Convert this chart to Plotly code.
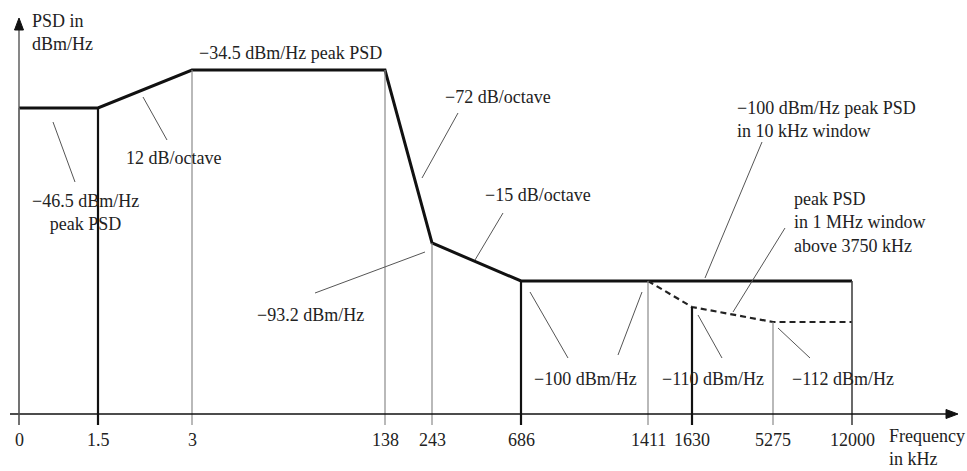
import plotly.graph_objects as go

# ---- data (schematic, not-to-scale PSD mask) ----
freq_labels = ["0", "1.5", "3", "138", "243", "686", "1411", "1630", "5275", "12000"]
freq_pos = [0, 79, 173, 366, 413, 502, 629, 673, 754, 833]   # schematic axis positions

psd_db = [-34.5, -46.5, -93.2, -100, -110, -112]
psd_pos = [344, 306, 171, 133, 107, 92]                         # schematic axis heights

# main mask (solid)
main_freq = ["0", "1.5", "3", "138", "243", "686", "12000"]
main_db = [-46.5, -46.5, -34.5, -34.5, -93.2, -100, -100]
# 1 MHz window mask (dashed)
dash_freq = ["1411", "1630", "5275", "12000"]
dash_db = [-100, -110, -112, -112]
# vertical drop line for each tick (top level in dB)
drop_db = [-46.5, -46.5, -34.5, -34.5, -93.2, -100, -100, -110, -112, -100]
drop_style = ["thin", "thick", "thin", "thin", "thin", "thick", "thin", "thick", "thin", "mid"]

fx = dict(zip(freq_labels, freq_pos))
fy = dict(zip(psd_db, psd_pos))

X0, Y0 = 19, 414  # pixel origin used to express annotation positions
def px(x):
    return x - X0
def py(y):
    return Y0 - y

FONT = "Times New Roman, Liberation Serif, DejaVu Serif, serif"
FS = 18

fig = go.Figure()

# drop lines
styles = {"thin": ("#8a8a8a", 1.2), "thick": ("#111111", 2.2), "mid": ("#444444", 1.6)}
shapes = []
for lab, db, st in zip(freq_labels, drop_db, drop_style):
    c, w = styles[st]
    shapes.append(dict(type="line", xref="x", yref="y", x0=fx[lab], x1=fx[lab],
                       y0=-11, y1=fy[db], line=dict(color=c, width=w)))

fig.add_trace(go.Scatter(x=[fx[f] for f in main_freq], y=[fy[d] for d in main_db],
                         mode="lines", line=dict(color="#111111", width=3),
                         hoverinfo="skip", showlegend=False))
fig.add_trace(go.Scatter(x=[fx[f] for f in dash_freq], y=[fy[d] for d in dash_db],
                         mode="lines", line=dict(color="#222222", width=2.2, dash="6px,4px"),
                         hoverinfo="skip", showlegend=False))

# axes
shapes.append(dict(type="line", xref="x", yref="y", x0=px(10), x1=px(950), y0=0, y1=0,
                   line=dict(color="#111111", width=1.6)))
shapes.append(dict(type="line", xref="x", yref="y", x0=0, x1=0, y0=-11, y1=py(28),
                   line=dict(color="#555555", width=1.4)))
# arrow heads
shapes.append(dict(type="path", xref="x", yref="y",
                   path=f"M {px(958)} 0 L {px(946)} 4.5 L {px(946)} -4.5 Z",
                   fillcolor="#111111", line=dict(color="#111111", width=1)))
shapes.append(dict(type="path", xref="x", yref="y",
                   path=f"M 0 {py(18)} L -4.5 {py(30)} L 4.5 {py(30)} Z",
                   fillcolor="#111111", line=dict(color="#111111", width=1)))

# leader lines (pixel endpoints of annotation pointers)
leaders = [((53, 122), (75, 182)), ((143, 97), (167, 140)), ((458, 113), (422, 178)),
           ((503, 213), (475, 260)), ((315, 293), (425, 252)), ((762, 142), (705, 278)),
           ((785, 228), (733, 312)), ((530, 292), (568, 358)), ((642, 292), (618, 355)),
           ((698, 315), (722, 358)), ((778, 328), (810, 358))]
for (a, b) in leaders:
    shapes.append(dict(type="line", xref="x", yref="y", x0=px(a[0]), y0=py(a[1]),
                       x1=px(b[0]), y1=py(b[1]), line=dict(color="#555555", width=1)))

annotations = []
def txt(text, x, y, xanchor="left", align="left"):
    annotations.append(dict(text=text, x=px(x), y=py(y), xref="x", yref="y",
                            xanchor=xanchor, yanchor="middle", align=align, showarrow=False,
                            font=dict(family=FONT, size=FS, color="#222222")))

# tick labels
for lab, pos in zip(freq_labels, freq_pos):
    annotations.append(dict(text=lab, x=pos, y=py(440), xref="x", yref="y",
                            xanchor="center", yanchor="middle", showarrow=False,
                            font=dict(family=FONT, size=FS, color="#222222")))

txt("PSD in<br>dBm/Hz", 30, 32)
txt("−34.5 dBm/Hz peak PSD", 197, 53)
txt("−72 dB/octave", 443, 97)
txt("12 dB/octave", 124, 158)
txt("−46.5 dBm/Hz<br>peak PSD", 85, 212, xanchor="center", align="center")
txt("−15 dB/octave", 483, 195)
txt("−100 dBm/Hz peak PSD<br>in 10 kHz window", 735, 119)
txt("peak PSD<br>in 1 MHz window<br>above 3750 kHz", 792, 222)
txt("−93.2 dBm/Hz", 255, 315)
txt("−100 dBm/Hz", 532, 379)
txt("−110 dBm/Hz", 660, 379)
txt("−112 dBm/Hz", 790, 379)
txt("Frequency<br>in kHz", 887, 447)

fig.update_layout(
    width=967, height=471,
    margin=dict(l=0, r=0, t=0, b=0),
    paper_bgcolor="white", plot_bgcolor="white",
    xaxis=dict(range=[px(0), px(967)], visible=False, fixedrange=True),
    yaxis=dict(range=[py(471), py(0)], visible=False, fixedrange=True),
    shapes=shapes, annotations=annotations,
    showlegend=False,
)

fig.write_html("out.html", config={"displayModeBar": False},
               post_script="document.body.style.margin='0';document.body.style.overflow='hidden';")
